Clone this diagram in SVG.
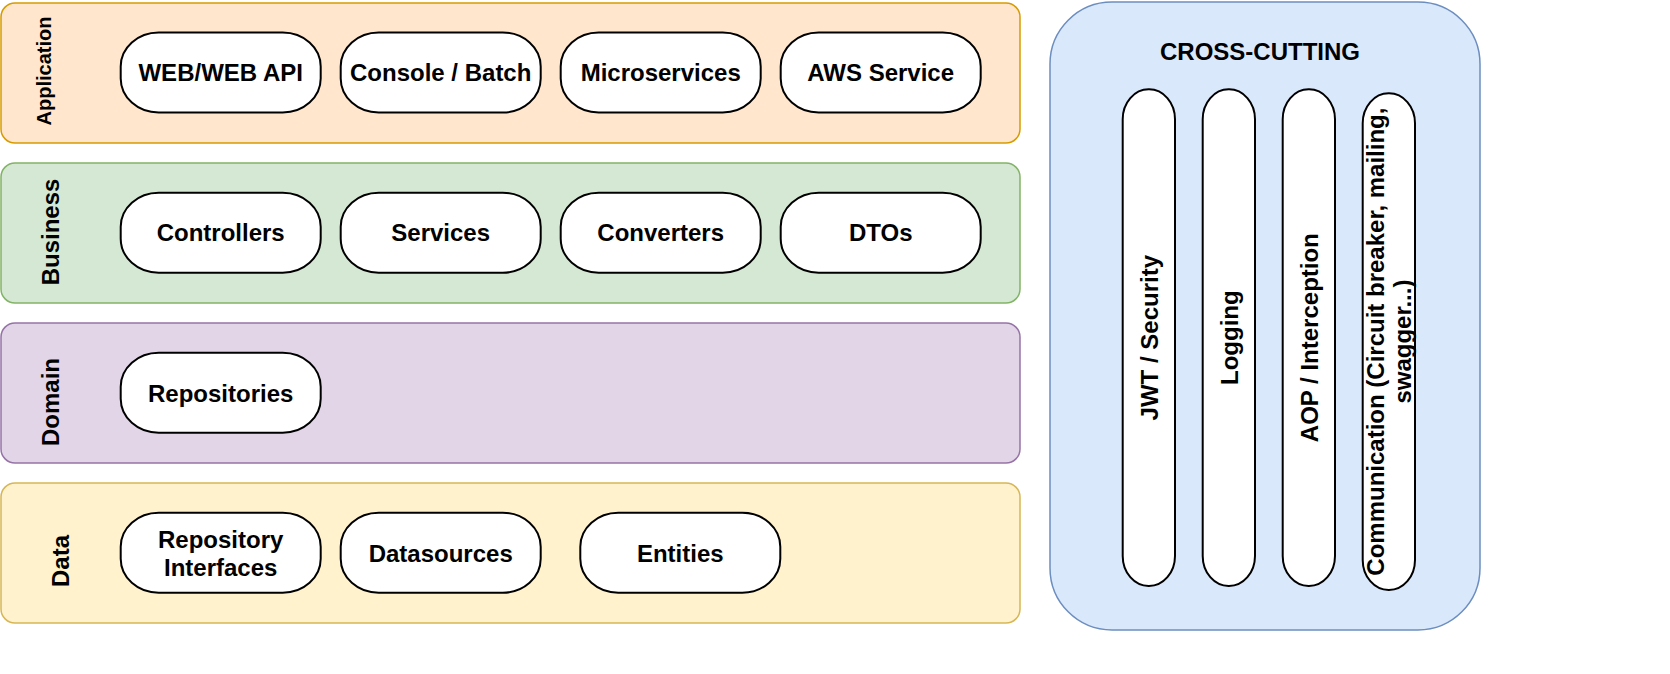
<svg xmlns="http://www.w3.org/2000/svg" width="1670" height="674" viewBox="0 0 1670 674">
<style>
text { font-family: "Liberation Sans", Arial, Helvetica, sans-serif; font-weight: bold; fill: #000000; text-anchor: middle; }
.t24 { font-size: 24px; }
.t20 { font-size: 20px; }
.layer { stroke-width: 1.5; }
.app { fill: #ffe6cc; stroke: #d79b00; }
.bus { fill: #d5e8d4; stroke: #82b366; }
.dom { fill: #e1d5e7; stroke: #9673a6; }
.dat { fill: #fff2cc; stroke: #d6b656; }
.cross { fill: #dae8fc; stroke: #6c8ebf; stroke-width: 1.5; }
.pill { fill: #ffffff; stroke: #000000; stroke-width: 2; }
</style>
<rect width="1670" height="674" fill="#ffffff"/>

<g id="layer-application">
  <rect class="layer app" x="1" y="3" width="1019" height="140" rx="14" ry="14"/>
  <text class="t20" transform="translate(51,71) rotate(-90)">Application</text>
</g>
<g id="layer-business">
  <rect class="layer bus" x="1" y="163" width="1019" height="140" rx="14" ry="14"/>
  <text class="t24" transform="translate(58.5,232) rotate(-90)">Business</text>
</g>
<g id="layer-domain">
  <rect class="layer dom" x="1" y="323" width="1019" height="140" rx="14" ry="14"/>
  <text class="t24" transform="translate(58.5,402) rotate(-90)">Domain</text>
</g>
<g id="layer-data">
  <rect class="layer dat" x="1" y="483" width="1019" height="140" rx="14" ry="14"/>
  <text class="t24" transform="translate(68.5,561) rotate(-90)">Data</text>
</g>

<g id="node-web-api">
  <rect class="pill" x="120.7" y="32.5" width="200" height="80" rx="38" ry="34"/>
  <text class="t24" x="220.7" y="81">WEB/WEB API</text>
</g>
<g id="node-console-batch">
  <rect class="pill" x="340.7" y="32.5" width="200" height="80" rx="38" ry="34"/>
  <text class="t24" x="440.7" y="81">Console / Batch</text>
</g>
<g id="node-microservices">
  <rect class="pill" x="560.7" y="32.5" width="200" height="80" rx="38" ry="34"/>
  <text class="t24" x="660.7" y="81">Microservices</text>
</g>
<g id="node-aws-service">
  <rect class="pill" x="780.7" y="32.5" width="200" height="80" rx="38" ry="34"/>
  <text class="t24" x="880.7" y="81">AWS Service</text>
</g>

<g id="node-controllers">
  <rect class="pill" x="120.7" y="192.7" width="200" height="80" rx="38" ry="34"/>
  <text class="t24" x="220.7" y="241.4">Controllers</text>
</g>
<g id="node-services">
  <rect class="pill" x="340.7" y="192.7" width="200" height="80" rx="38" ry="34"/>
  <text class="t24" x="440.7" y="241.4">Services</text>
</g>
<g id="node-converters">
  <rect class="pill" x="560.7" y="192.7" width="200" height="80" rx="38" ry="34"/>
  <text class="t24" x="660.7" y="241.4">Converters</text>
</g>
<g id="node-dtos">
  <rect class="pill" x="780.7" y="192.7" width="200" height="80" rx="38" ry="34"/>
  <text class="t24" x="880.7" y="241.4">DTOs</text>
</g>

<g id="node-repositories">
  <rect class="pill" x="120.7" y="352.7" width="200" height="80" rx="38" ry="34"/>
  <text class="t24" x="220.7" y="401.5">Repositories</text>
</g>

<g id="node-repository-interfaces">
  <rect class="pill" x="120.7" y="512.7" width="200" height="80" rx="38" ry="34"/>
  <text class="t24" x="220.7" y="548.3">Repository</text>
  <text class="t24" x="220.7" y="576">Interfaces</text>
</g>
<g id="node-datasources">
  <rect class="pill" x="340.7" y="512.7" width="200" height="80" rx="38" ry="34"/>
  <text class="t24" x="440.7" y="561.5">Datasources</text>
</g>
<g id="node-entities">
  <rect class="pill" x="580.3" y="512.7" width="200" height="80" rx="38" ry="34"/>
  <text class="t24" x="680.3" y="561.5">Entities</text>
</g>

<g id="cross-cutting">
  <rect class="cross" x="1050" y="2" width="430" height="628" rx="62" ry="62"/>
  <text class="t24" x="1260" y="60">CROSS-CUTTING</text>
</g>
<g id="node-jwt-security">
  <rect class="pill" x="1122.7" y="89.3" width="52.3" height="496.7" rx="26" ry="30"/>
  <text class="t24" transform="translate(1157.5,337.7) rotate(-90)">JWT / Security</text>
</g>
<g id="node-logging">
  <rect class="pill" x="1202.7" y="89.3" width="52.3" height="496.7" rx="26" ry="30"/>
  <text class="t24" transform="translate(1237.5,337.7) rotate(-90)">Logging</text>
</g>
<g id="node-aop-interception">
  <rect class="pill" x="1282.7" y="89.3" width="52.3" height="496.7" rx="26" ry="30"/>
  <text class="t24" transform="translate(1317.5,337.7) rotate(-90)">AOP / Interception</text>
</g>
<g id="node-communication">
  <rect class="pill" x="1362.7" y="93.3" width="52.3" height="496.7" rx="26" ry="30"/>
  <text class="t24" transform="translate(1383.5,341.6) rotate(-90)">Communication (Circuit breaker, mailing,</text>
  <text class="t24" transform="translate(1410.5,341.6) rotate(-90)">swagger...)</text>
</g>

<g id="connectors"/>
</svg>
